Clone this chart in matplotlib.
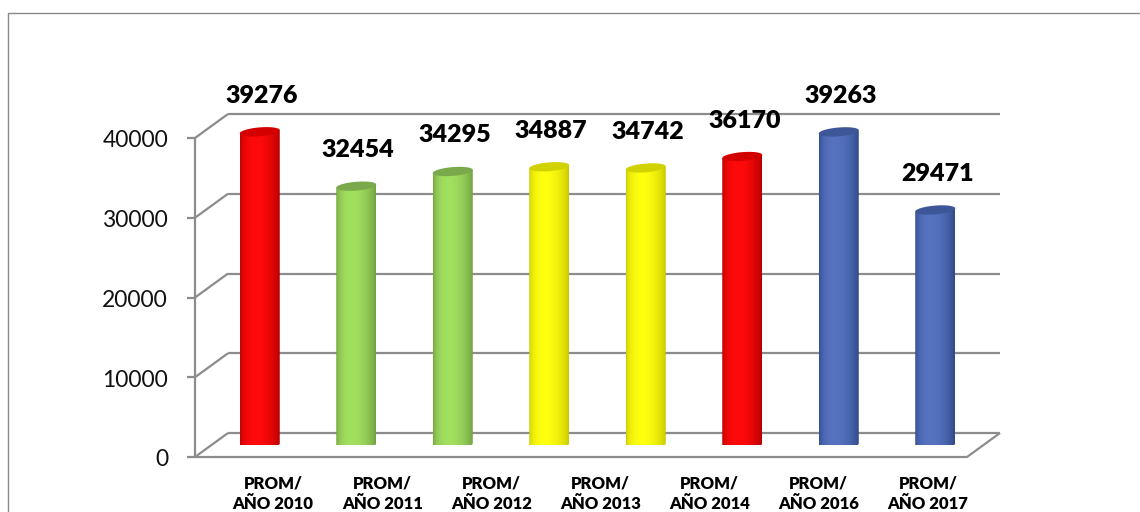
import numpy as np
import matplotlib
matplotlib.use("Agg")
import matplotlib.pyplot as plt
from matplotlib.path import Path
from matplotlib.patches import PathPatch, Polygon
from matplotlib.lines import Line2D
from matplotlib.colors import to_rgb

# ---- data -------------------------------------------------------------
values = [39276, 32454, 34295, 34887, 34742, 36170, 39263, 29471]
bar_groups = ["red", "green", "green", "yellow", "yellow", "red", "blue", "blue"]
category_labels = [
    "PROM/\nAÑO 2010", "PROM/\nAÑO 2011", "PROM/\nAÑO 2012", "PROM/\nAÑO 2013",
    "PROM/\nAÑO 2014", "PROM/\nAÑO 2016", "PROM/\nAÑO 2017",
]
y_ticks = [0, 10000, 20000, 30000, 40000]

# body highlight, body edge shade, cap colour
palette = {
    "red": ("#ff0a0a", "#b00000", "#d40000"),
    "green": ("#a2e060", "#6e9c3e", "#7aa94c"),
    "yellow": ("#ffff10", "#c4c400", "#d2d200"),
    "blue": ("#5673c0", "#2f4684", "#3c5698"),
}

plt.rcParams["font.family"] = ["Lato", "DejaVu Sans"]

W, H, DPI = 1140, 512, 100
fig = plt.figure(figsize=(W / DPI, H / DPI), dpi=DPI)
fig.patch.set_facecolor("white")

# axes = middle depth plane of the 3-D box (pixel layout)
mid_left, mid_right = 211.5, 983.5
mid_zero, mid_top = 445.0, 126.0
ax = fig.add_axes([mid_left / W, (H - mid_zero) / H,
                   (mid_right - mid_left) / W, (mid_zero - mid_top) / H])
ax.set_axis_off()
n = len(values)
x0, x1 = -0.5, n - 0.5
y_max = y_ticks[-1]

ux = (x1 - x0) / (mid_right - mid_left)        # data units per pixel (x)
uy = y_max / (mid_zero - mid_top)              # data units per pixel (y)
dx, dy = 16.5 * ux, 12.0 * uy                  # half-depth offset

grid_kw = dict(color="#8c8c8c", lw=1.6, solid_capstyle="butt", clip_on=False, zorder=1)

# back wall gridlines and left wall diagonals
for v in y_ticks:
    ax.add_line(Line2D([x0 + dx, x1 + dx], [v + dy, v + dy], **grid_kw))
    ax.add_line(Line2D([x0 - dx, x0 + dx], [v - dy, v + dy], **grid_kw))
# floor front edge and right edge
ax.add_line(Line2D([x0 - dx, x1 - dx, x1 + dx], [-dy, -dy, dy], **grid_kw))
# front value axis with ticks
ax.add_line(Line2D([x0 - dx, x0 - dx], [-dy, y_max - dy], **grid_kw))
for v in y_ticks:
    ax.add_line(Line2D([x0 - dx - 8 * ux, x0 - dx], [v - dy, v - dy], **grid_kw))
    ax.text(x0 - dx - 27 * ux, v - dy - 3 * uy, f"{v}", ha="right", va="center",
            fontsize=16.5, color="#111111", clip_on=False)

# cylinders
half_w = 20 * ux
ell = 4.4 * uy
tilt = 1.6 * uy
t_bot = np.linspace(np.pi, 2 * np.pi, 60)
t_all = np.linspace(0, 2 * np.pi, 120)
cols = 200
tt = np.linspace(0, 1, cols)
shade = np.sin(np.pi * tt ** 0.75) ** 0.65

for i, (v, grp) in enumerate(zip(values, bar_groups)):
    light, dark, cap = (np.array(to_rgb(c)) for c in palette[grp])
    cx = i
    bx = cx + half_w * np.cos(t_bot)
    by = ell * np.sin(t_bot) + tilt * np.cos(t_bot)
    verts = list(zip(bx, by)) + [(cx + half_w, v + tilt), (cx - half_w, v - tilt)]
    body = PathPatch(Path(verts + [verts[0]], closed=True), transform=ax.transData,
                     facecolor="none", edgecolor="none")
    ax.add_patch(body)
    img = dark[None, :] + (light - dark)[None, :] * shade[:, None]
    im = ax.imshow(img[None, :, :], extent=[cx - half_w, cx + half_w, -ell - tilt, v + tilt],
                   aspect="auto", interpolation="bilinear", zorder=3, origin="lower")
    im.set_clip_path(body)
    top_x = cx + half_w * np.cos(t_all)
    top_y = v + ell * np.sin(t_all) + tilt * np.cos(t_all)
    ax.add_patch(Polygon(np.column_stack([top_x, top_y]), closed=True,
                         facecolor=cap, edgecolor="none", zorder=4))
    ax.text(cx + 2 * ux, v + 36 * uy, f"{v}", ha="center", va="center",
            fontsize=18, fontweight="heavy", color="black", clip_on=False, zorder=5)

# category labels along the front floor edge
label_x = np.linspace(x0 + 61.5 * ux, x1 - 55.5 * ux, len(category_labels))
for lx, lab in zip(label_x, category_labels):
    ax.text(lx, -dy - 37 * uy, lab, ha="center", va="center", multialignment="center",
            fontsize=12, fontweight="heavy", color="black", linespacing=1.35,
            clip_on=False)

ax.set_xlim(x0, x1)
ax.set_ylim(0, y_max)

# chart area border
fig.add_artist(Line2D([7.5 / W, 7.5 / W, 1.0], [0.0, 1 - 12.5 / H, 1 - 12.5 / H],
                      transform=fig.transFigure, color="#8a8a8a", lw=1.0))

fig.savefig("out.png", dpi=DPI, facecolor="white")
